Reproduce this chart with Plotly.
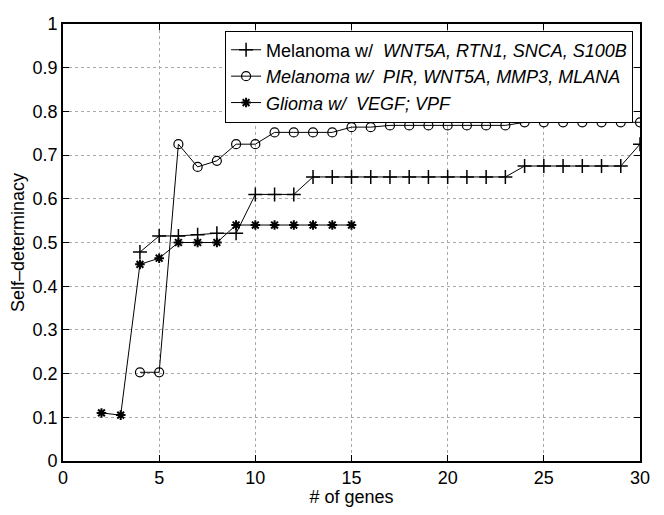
import plotly.graph_objects as go

# Data
mel1_x = [4, 5, 6, 7, 8, 9, 10, 11, 12, 13, 14, 15, 16, 17, 18, 19, 20, 21, 22, 23, 24, 25, 26, 27, 28, 29, 30]
mel1_y = [0.478, 0.515, 0.515, 0.518, 0.521, 0.521, 0.61, 0.61, 0.61, 0.65, 0.65, 0.65, 0.65, 0.65, 0.65,
          0.65, 0.65, 0.65, 0.65, 0.65, 0.675, 0.675, 0.675, 0.675, 0.675, 0.675, 0.725]

mel2_x = [4, 5, 6, 7, 8, 9, 10, 11, 12, 13, 14, 15, 16, 17, 18, 19, 20, 21, 22, 23, 24, 25, 26, 27, 28, 29, 30]
mel2_y = [0.203, 0.203, 0.725, 0.673, 0.687, 0.725, 0.725, 0.752, 0.752, 0.752, 0.752, 0.764, 0.764, 0.768,
          0.768, 0.768, 0.768, 0.768, 0.768, 0.768, 0.775, 0.775, 0.775, 0.775, 0.775, 0.775, 0.775]

gli_x = [2, 3, 4, 5, 6, 7, 8, 9, 10, 11, 12, 13, 14, 15]
gli_y = [0.11, 0.105, 0.45, 0.464, 0.50, 0.50, 0.50, 0.54, 0.54, 0.54, 0.54, 0.54, 0.54, 0.54]

names = [
    "Melanoma w/  <i>WNT5A, RTN1, SNCA, S100B</i>",
    "<i>Melanoma w/  PIR, WNT5A, MMP3, MLANA</i>",
    "<i>Glioma w/  VEGF; VPF</i>",
]
x_ticks = [0, 5, 10, 15, 20, 25, 30]
y_ticks = [0, 0.1, 0.2, 0.3, 0.4, 0.5, 0.6, 0.7, 0.8, 0.9, 1]

FONT = "Liberation Sans, Arial, Helvetica, sans-serif"
FS = 18

fig = go.Figure()
fig.add_trace(go.Scatter(
    x=mel1_x, y=mel1_y, name=names[0], mode="lines+markers",
    line=dict(color="black", width=1),
    marker=dict(symbol="cross-thin-open", size=10, line=dict(color="black", width=1.5)),
))
fig.add_trace(go.Scatter(
    x=mel2_x, y=mel2_y, name=names[1], mode="lines+markers",
    line=dict(color="black", width=1),
    marker=dict(symbol="circle-open", size=9, color="black", line=dict(color="black", width=1.2)),
))
fig.add_trace(go.Scatter(
    x=gli_x, y=gli_y, name=names[2], mode="lines+markers",
    line=dict(color="black", width=1),
    marker=dict(symbol="asterisk-open", size=8, line=dict(color="black", width=2)),
))

axis_common = dict(
    showline=True, linecolor="black", linewidth=1.6, mirror="ticks",
    ticks="inside", ticklen=6, tickcolor="black", tickwidth=1,
    showgrid=True, gridcolor="#aaaaaa", griddash="dot", gridwidth=1,
    zeroline=False, tickfont=dict(size=FS, color="black", family=FONT),
    ticklabeloverflow="allow",
)

# page body has an 8px default margin: figure size/margins compensate for it
fig.update_layout(
    width=648, height=499,
    margin=dict(l=55, r=15, t=6, b=36),
    paper_bgcolor="white", plot_bgcolor="white",
    font=dict(family=FONT, size=FS, color="black"),
    showlegend=True,
    legend=dict(
        x=0.988, y=0.985, xanchor="right", yanchor="top",
        bgcolor="white", bordercolor="black", borderwidth=1,
        font=dict(size=FS, family=FONT, color="black"),
        tracegroupgap=0, itemwidth=30,
    ),
    xaxis=dict(range=[0, 30], tickvals=x_ticks, title=dict(text="# of genes", standoff=0,
               font=dict(size=FS)), **axis_common),
    yaxis=dict(range=[0, 1], tickvals=y_ticks, title=dict(text="Self–determinacy", standoff=4,
               font=dict(size=FS)), **axis_common),
)

fig.write_html("out.html")
